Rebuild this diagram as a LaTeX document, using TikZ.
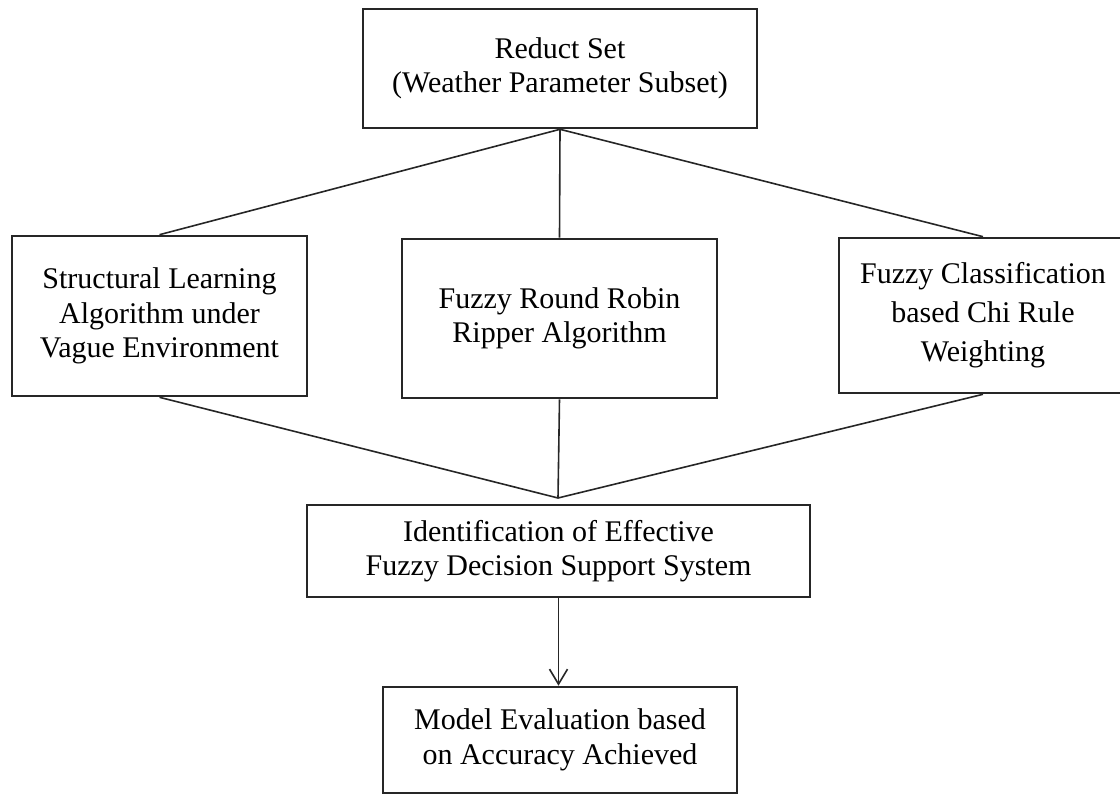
\documentclass[tikz,border=0pt]{standalone}
\usepackage{fontspec}
\setmainfont{Liberation Serif}
\usetikzlibrary{arrows.meta}
\begin{document}
\begin{tikzpicture}[x=0.5pt,y=-0.5pt,
  box/.style={draw=black!85, line width=1.3pt, align=center, inner sep=0pt,
              font=\fontsize{15}{17.25}\selectfont, text=black},
  conn/.style={draw=black!85, line width=0.8pt}]
\useasboundingbox (0,0) rectangle (1120,796);
\node[box, minimum width=197pt, minimum height=59.5pt] (reduct) at (560,68.5)
  {Reduct Set\\(Weather Parameter Subset)};
\node[box, minimum width=147.5pt, minimum height=80pt] (slave) at (159.5,316)
  {Structural Learning\\Algorithm under\\Vague Environment};
\node[box, minimum width=157.5pt, minimum height=79.5pt] (frr) at (559.5,318.5)
  {Fuzzy Round Robin\\Ripper Algorithm};
\node[box, minimum width=144pt, minimum height=77.5pt,
      font=\fontsize{15}{19.5}\selectfont] (chi) at (983,315.5)
  {Fuzzy Classification\\based Chi Rule\\Weighting};
\node[box, minimum width=251.5pt, minimum height=46pt] (ident) at (558.5,551)
  {Identification of Effective\\Fuzzy Decision Support System};
\node[box, minimum width=177pt, minimum height=53pt] (model) at (560,740)
  {Model Evaluation based\\on Accuracy Achieved};
\coordinate (j) at (558,498);
\draw[conn] (reduct.south) -- (slave.north);
\draw[conn] (reduct.south) -- (frr.north);
\draw[conn] (reduct.south) -- (chi.north);
\draw[conn] (slave.south) -- (j);
\draw[conn] (frr.south) -- (j);
\draw[conn] (chi.south) -- (j);
\draw[conn, -{Straight Barb[length=7.5pt, width=9pt, line width=0.8pt]}] (ident.south) -- (ident.south |- model.north);
\end{tikzpicture}
\end{document}
